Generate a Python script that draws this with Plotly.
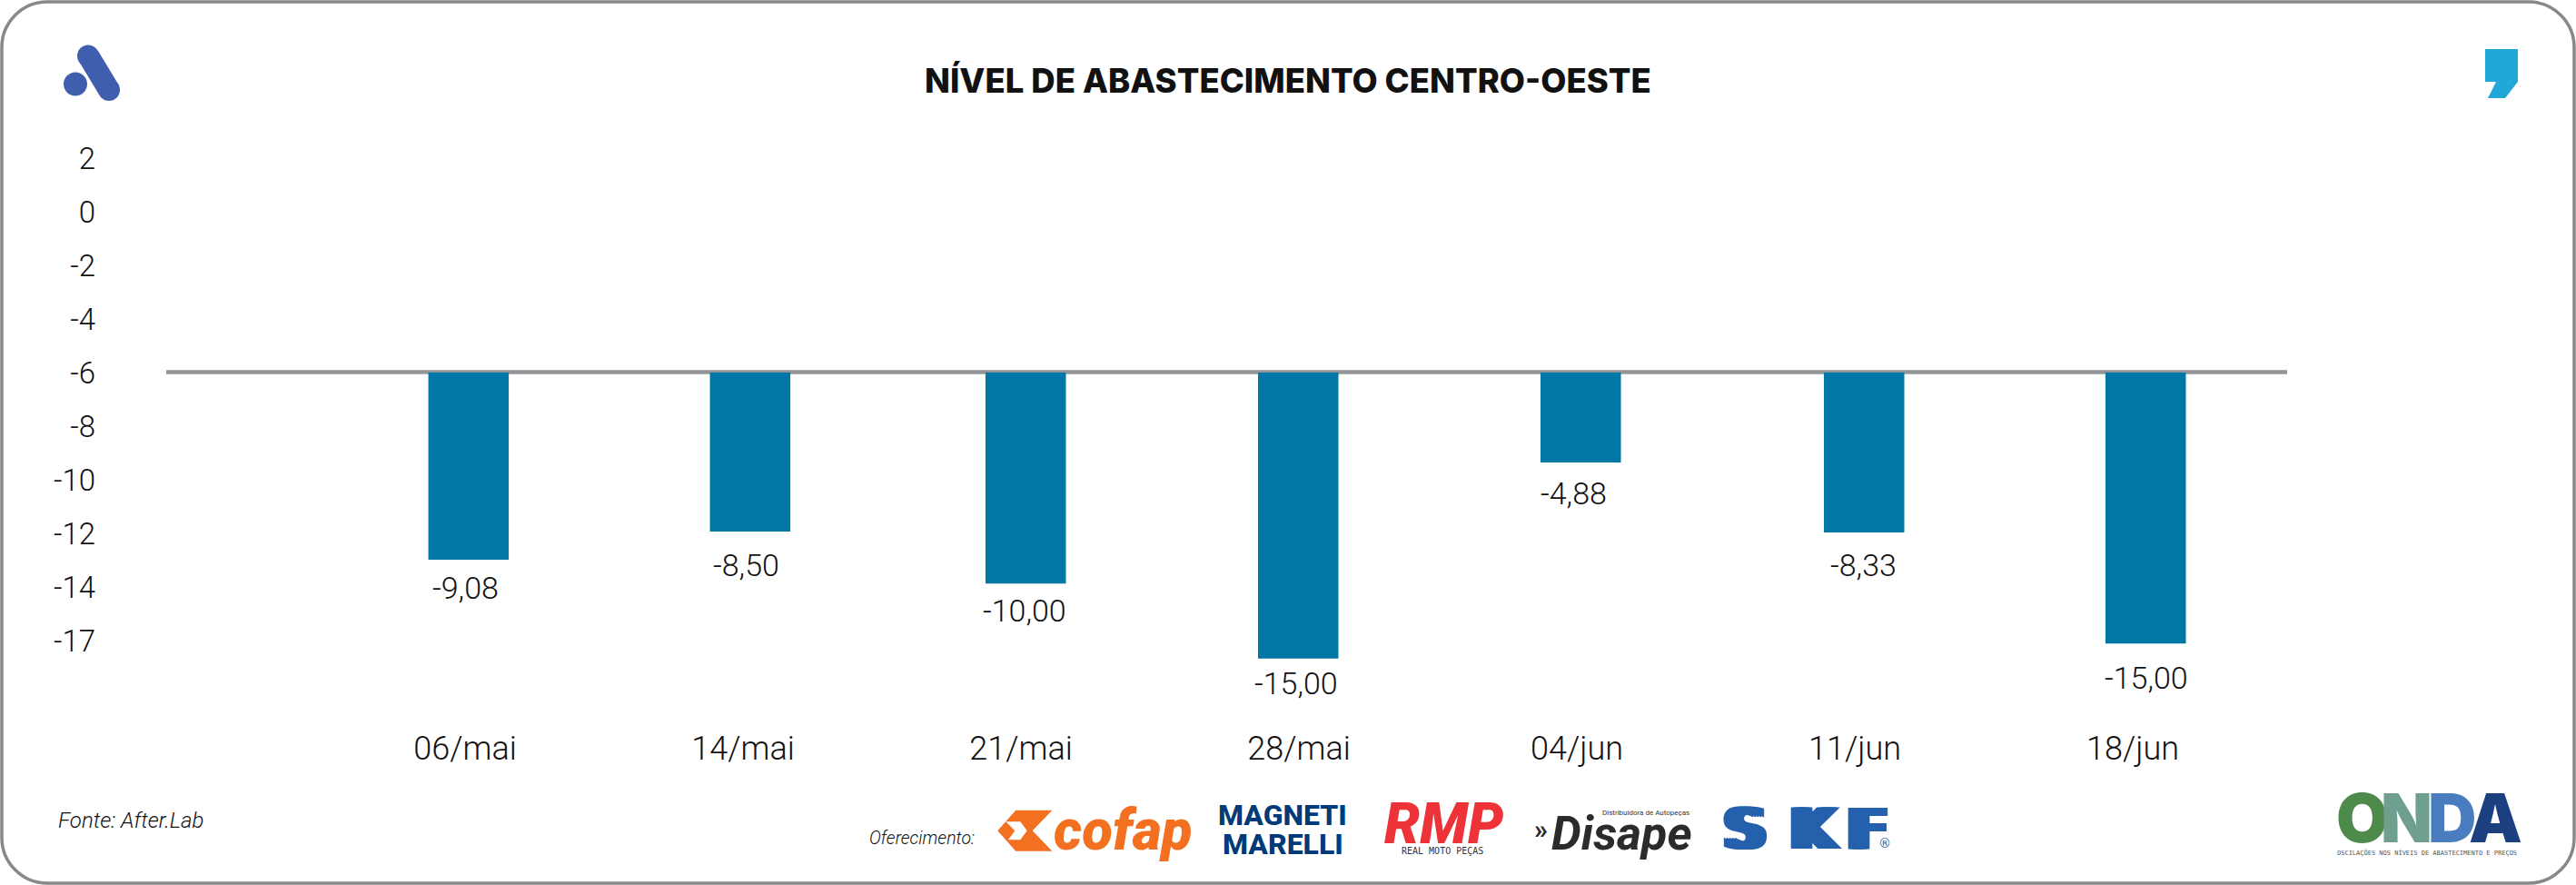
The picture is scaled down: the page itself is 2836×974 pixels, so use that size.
import plotly.graph_objects as go

W, H = 2836, 974
categories = ["06/mai", "14/mai", "21/mai", "28/mai", "04/jun", "11/jun", "18/jun"]
# bar ends as read on the printed (left) scale
bar_ends = [-12.98, -11.93, -13.87, -16.67, -9.36, -11.97, -16.11]
value_labels = ["-9,08", "-8,50", "-10,00", "-15,00", "-4,88", "-8,33", "-15,00"]
label_levels = [-14.07, -13.21, -14.92, -17.62, -10.54, -13.21, -17.42]
y_ticks = [2, 0, -2, -4, -6, -8, -10, -12, -14, -16]
y_tick_labels = ["2", "0", "-2", "-4", "-6", "-8", "-10", "-12", "-14", "-17"]
BASELINE = -6

# layout tweaks in pixels (the source spaces its bars and labels by hand)
bar_shifts = [-40.4, -36.4, -39, -45, -40, -34, -30]
label_nudges = [0, 3, 4, -3, -4, 9, 15]

SANS = "Roboto, sans-serif"
HEAD = "Inter, Roboto, sans-serif"
BAR = "#0077A5"
INK = "#111111"
L, R, T, B = 183, 2518, 100, 795
Y0, YS = 410, 29.5
X0, XS = 512, 306
BAR_W = 88.5


def px(x):
    return (x - L) / (R - L)


def py(y):
    return 1 - (y - T) / (B - T)


def poly(points, fill):
    d = "M " + " L ".join(f"{px(x):.5f},{py(y):.5f}" for x, y in points) + " Z"
    return dict(type="path", xref="paper", yref="paper", path=d, fillcolor=fill, line_width=0, layer="above")


def disc(cx, cy, r, fill):
    return dict(type="circle", xref="paper", yref="paper", x0=px(cx - r), x1=px(cx + r), y0=py(cy + r), y1=py(cy - r),
                fillcolor=fill, line_width=0, layer="above")


def frame(i, r, color, width):
    k = r * 0.45
    a, b, c, d = i, i, W - i, H - i
    s = [("M", [(a + r, b)]), ("L", [(c - r, b)]), ("C", [(c - k, b), (c, b + k), (c, b + r)]), ("L", [(c, d - r)]),
         ("C", [(c, d - k), (c - k, d), (c - r, d)]), ("L", [(a + r, d)]), ("C", [(a + k, d), (a, d - k), (a, d - r)]),
         ("L", [(a, b + r)]), ("C", [(a, b + k), (a + k, b), (a + r, b)])]
    path = " ".join(cmd + " " + " ".join(f"{px(x):.5f},{py(y):.5f}" for x, y in pts) for cmd, pts in s) + " Z"
    return dict(type="path", xref="paper", yref="paper", path=path, line=dict(color=color, width=width), layer="above")


def text(x, y, s, size, color=INK, family=SANS, anchor="center", weight="normal", style="normal", shadow=None):
    font = dict(size=size, color=color, family=family, weight=weight, style=style)
    if shadow:
        font["shadow"] = shadow
    return dict(xref="paper", yref="paper", x=px(x), y=py(y), text=s, showarrow=False, xanchor=anchor, yanchor="middle", font=font)


shapes = [
    frame(2, 50, "#87888A", 3.5),
    dict(type="line", xref="paper", x0=0, x1=1, yref="y", y0=BASELINE + 0.017, y1=BASELINE + 0.017,
         line=dict(color="#939598", width=4.5), layer="below"),
    # brand mark, left
    disc(97, 61.5, 12, "#3F5FAE"), disc(120, 99, 12, "#3F5FAE"),
    poly([(86, 66), (108, 56), (131, 94), (109, 104)], "#3F5FAE"),
    disc(83, 92.5, 13, "#3F5FAE"),
    # brand mark, right
    poly([(2736, 54), (2772, 54), (2772, 90), (2758, 108), (2739, 108), (2748, 90), (2736, 90)], "#22A8D8"),
    # cofap mark
    poly([(1118.3, 891.7), (1158.3, 891.7), (1136.7, 914.3), (1158.3, 936.7), (1118.3, 936.7), (1098.3, 914.3)], "#F37021"),
    poly([(1107.3, 904.3), (1123.3, 904.3), (1130.7, 914.3), (1123.3, 924.3), (1110, 924.3), (1117.3, 914.3)], "#FFFFFF"),
]

annotations = [
    text(1418, 89, "NÍVEL DE ABASTECIMENTO CENTRO-OESTE", 36.5, "#111111", HEAD, weight=800),
    text(62, 903, "Fonte: After.Lab", 24, INK, SANS, "left", weight=300, style="italic"),
    text(955, 922, "Oferecimento:", 19.5, INK, SANS, "left", weight=300, style="italic"),
    text(1236, 913, "cofap", 62, "#F37021", SANS, weight=900, style="italic"),
    text(1412, 897, "MAGNETI", 32, "#003A78", SANS, weight=800),
    text(1412, 929, "MARELLI", 32, "#003A78", SANS, weight=800),
    text(1590, 906, "RMP", 62, "#EE3338", SANS, weight=900, style="italic"),
    text(1588, 936, "REAL MOTO PEÇAS", 10, "#333333", "DejaVu Sans Mono"),
    text(1696, 912, "»", 30, "#2B2B2B", SANS, weight="bold"),
    text(1785, 917, "Disape", 52, "#2B2B2B", SANS, weight="bold", style="italic"),
    text(1812, 894, "Distribuidora de Autopeças", 8, "#333333", SANS),
    text(2075, 928, "®", 14, "#2460AC", "DejaVu Sans"),
    text(2672, 938, "OSCILAÇÕES NOS NÍVEIS DE ABASTECIMENTO E PREÇOS", 7, "#555555", "DejaVu Sans Mono"),
]
for letter, x_c in [("S", 1921), ("K", 1997), ("F", 2056)]:
    annotations.append(text(x_c, 912, letter, 62, "#2460AC", "DejaVu Sans", weight="bold",
                            shadow="6px 0 0 #2460AC, -6px 0 0 #2460AC, 3px 0 0 #2460AC, -3px 0 0 #2460AC"))
for letter, x_c, color in [("O", 2600, "#4F8A4D"), ("N", 2649, "#6FA08F"), ("D", 2699, "#4A7CC0"), ("A", 2747, "#1C3F80")]:
    annotations.append(text(x_c, 900, letter, 74, color, HEAD, weight=900))

for cat, lvl, lab, nudge in zip(categories, label_levels, value_labels, label_nudges):
    annotations.append(dict(x=cat, y=lvl, xref="x", yref="y", text=lab, showarrow=False, xshift=nudge, yshift=1, yanchor="middle",
                            font=dict(size=34, color=INK, family=SANS, weight=300)))

fig = go.Figure(go.Bar(x=categories, y=[e - BASELINE for e in bar_ends], base=BASELINE, marker=dict(color=BAR, line_width=0),
                       width=BAR_W / XS, offset=[s / XS for s in bar_shifts], hoverinfo="skip"))
fig.update_layout(
    width=W, height=H, autosize=False, margin=dict(l=L, r=W - R, t=T, b=H - B), paper_bgcolor="white", plot_bgcolor="white",
    showlegend=False, shapes=shapes, annotations=annotations,
    xaxis=dict(type="category", categoryorder="array", categoryarray=categories, range=[-(X0 - L) / XS, (R - X0) / XS],
               showgrid=False, zeroline=False, showline=False, ticks="", tickfont=dict(size=36, color=INK, family=SANS, weight=300),
               ticklabelstandoff=4),
    yaxis=dict(range=[-6 - (B - Y0) / YS, -6 + (Y0 - T) / YS], tickvals=y_ticks, ticktext=y_tick_labels, showgrid=False,
               zeroline=False, showline=False, ticks="", tickfont=dict(size=33, color=INK, family=SANS, weight=300), ticklabelstandoff=77),
)
fig.write_html("out.html", config={"displayModeBar": False},
               post_script="document.body.style.margin='0';document.documentElement.style.overflow='hidden';")
